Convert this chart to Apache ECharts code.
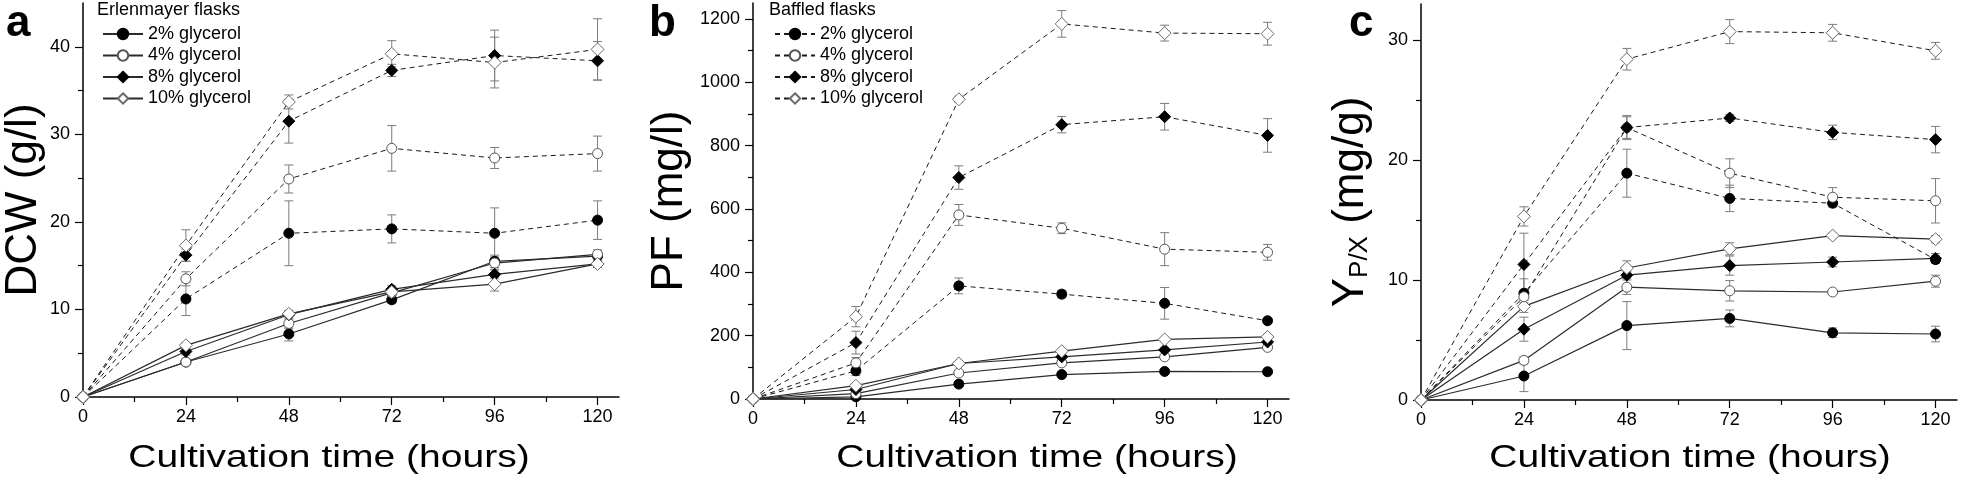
<!DOCTYPE html>
<html><head><meta charset="utf-8">
<script src="https://cdn.jsdelivr.net/npm/echarts@6/dist/echarts.min.js"></script>
<style>html,body{margin:0;padding:0;background:#fff}#c{width:1961px;height:484px}</style>
</head><body><div id="c"></div>
<script>
// ---------- data ----------
const time = [0, 24, 48, 72, 96, 120];
const xTickLabels = [0, 24, 48, 72, 96, 120];
const xMinorTicks = [12, 36, 60, 84, 108];
const concLabels = ['2% glycerol', '4% glycerol', '8% glycerol', '10% glycerol'];
const xTitle = 'Cultivation time (hours)';

// Panel a: DCW (g/l)
const aYTicks = [0, 10, 20, 30, 40];
const aYMinor = [5, 15, 25, 35];
const dcwErl2  = [0, 4.0, 7.2, 11.1, 15.5, 16.1];
const dcwErl4  = [0, 4.0, 8.4, 11.9, 15.3, 16.3];
const dcwErl8  = [0, 5.2, 9.4, 12.3, 14.0, 15.2];
const dcwErl10 = [0, 5.9, 9.5, 12.0, 12.9, 15.2];
const dcwErl2Err  = [0, 0.3, 0.8, 0.4, 0.7, 0.5];
const dcwErl4Err  = [0, 0.3, 0.6, 0.4, 0.7, 0.5];
const dcwErl8Err  = [0, 0.4, 0.5, 0.4, 0.5, 0.4];
const dcwErl10Err = [0, 0.3, 0.3, 0.4, 0.8, 0.4];
const dcwBaf2  = [0, 11.2, 18.7, 19.2, 18.7, 20.2];
const dcwBaf4  = [0, 13.5, 24.9, 28.4, 27.3, 27.8];
const dcwBaf8  = [0, 16.2, 31.5, 37.3, 39.0, 38.4];
const dcwBaf10 = [0, 17.3, 33.7, 39.2, 38.2, 39.7];
const dcwBaf2Err  = [0, 1.9, 3.7, 1.6, 2.9, 2.2];
const dcwBaf4Err  = [0, 0.8, 1.6, 2.6, 1.2, 2.0];
const dcwBaf8Err  = [0, 0.7, 2.5, 0.7, 2.9, 2.2];
const dcwBaf10Err = [0, 1.8, 0.8, 1.5, 2.9, 3.5];

// Panel b: PF (mg/l)
const bYTicks = [0, 200, 400, 600, 800, 1000, 1200];
const bYMinor = [100, 300, 500, 700, 900, 1100];
const pfErl2  = [0, 7, 47, 77, 87, 86];
const pfErl4  = [0, 17, 82, 114, 133, 163];
const pfErl8  = [0, 30, 112, 133, 155, 180];
const pfErl10 = [0, 42, 112, 151, 188, 196];
const pfErl2Err  = [0, 3, 8, 6, 5, 5];
const pfErl4Err  = [0, 4, 7, 8, 6, 8];
const pfErl8Err  = [0, 5, 6, 6, 6, 6];
const pfErl10Err = [0, 5, 6, 6, 6, 6];
const pfBaf2  = [0, 89, 357, 331, 302, 247];
const pfBaf4  = [0, 114, 581, 539, 473, 463];
const pfBaf8  = [0, 178, 699, 866, 891, 832];
const pfBaf10 = [0, 260, 946, 1184, 1155, 1153];
const pfBaf2Err  = [0, 15, 25, 12, 50, 5];
const pfBaf4Err  = [0, 17, 33, 17, 52, 25];
const pfBaf8Err  = [0, 36, 37, 26, 42, 53];
const pfBaf10Err = [0, 32, 10, 42, 25, 36];

// Panel c: Y P/X (mg/g)
const cYTicks = [0, 10, 20, 30];
const cYMinor = [5, 15, 25];
const ypxErl2  = [0, 2.0, 6.2, 6.8, 5.6, 5.5];
const ypxErl4  = [0, 3.3, 9.4, 9.1, 9.0, 9.9];
const ypxErl8  = [0, 5.9, 10.4, 11.2, 11.5, 11.8];
const ypxErl10 = [0, 7.8, 11.0, 12.6, 13.7, 13.4];
const ypxErl2Err  = [0, 1.3, 2.0, 0.7, 0.4, 0.65];
const ypxErl4Err  = [0, 0.3, 0.6, 0.85, 0.2, 0.5];
const ypxErl8Err  = [0, 1.0, 0.3, 0.8, 0.4, 0.4];
const ypxErl10Err = [0, 0.5, 0.6, 0.5, 0.2, 0.3];
const ypxBaf2  = [0, 8.9, 18.9, 16.8, 16.4, 11.7];
const ypxBaf4  = [0, 8.6, 22.7, 18.9, 16.9, 16.6];
const ypxBaf8  = [0, 11.3, 22.7, 23.5, 22.3, 21.7];
const ypxBaf10 = [0, 15.3, 28.4, 30.7, 30.6, 29.1];
const ypxBaf2Err  = [0, 1.2, 2.0, 1.1, 0.3, 0.3];
const ypxBaf4Err  = [0, 0.5, 1.0, 1.2, 0.8, 1.85];
const ypxBaf8Err  = [0, 2.6, 0.9, 0.3, 0.6, 1.1];
const ypxBaf10Err = [0, 0.8, 0.9, 1.0, 0.7, 0.7];

// ---------- styles ----------
const FONT = '"Liberation Sans", Arial, sans-serif';
const markers = [
  {symbol: 'circle', size: 10, fill: '#000', stroke: '#000'},
  {symbol: 'circle', size: 10, fill: '#fff', stroke: '#555'},
  {symbol: 'diamond', size: 12, fill: '#000', stroke: '#000'},
  {symbol: 'diamond', size: 13, fill: '#fff', stroke: '#6a6a6a'}
];

const grids = [
  {left: 83, top: 3, width: 536, height: 394},
  {left: 753, top: 3, width: 536, height: 396},
  {left: 1421, top: 4, width: 536, height: 396}
];

const legendNames = {};

function lineSeries(gi, vals, k, dashed, name) {
  const m = markers[k];
  legendNames[name] = concLabels[k];
  return {
    type: 'line', name: name, xAxisIndex: gi * 2, yAxisIndex: gi * 2, z: 3,
    data: time.map((t, i) => [t, vals[i]]),
    symbol: m.symbol, symbolSize: m.size, showSymbol: true, animation: false,
    lineStyle: {color: dashed ? '#1a1a1a' : '#2b2b2b', width: dashed ? 1 : 1.2, type: dashed ? [5, 4] : 'solid'},
    itemStyle: {color: m.fill, borderColor: m.stroke, borderWidth: 1},
    emphasis: {disabled: true}
  };
}

function errSeries(gi, vals, errs, name) {
  return {
    type: 'custom', name: name, xAxisIndex: gi * 2, yAxisIndex: gi * 2, z: 2, silent: true, animation: false,
    data: time.map((t, i) => [t, vals[i], errs[i]]).filter(d => d[2] > 0),
    encode: {x: 0, y: 1},
    renderItem: function (params, api) {
      const x = api.value(0), y = api.value(1), e = api.value(2);
      const p1 = api.coord([x, y + e]), p2 = api.coord([x, y - e]);
      const w = 4.5, st = {stroke: '#7c7c7c', lineWidth: 1};
      return {type: 'group', children: [
        {type: 'line', shape: {x1: p1[0], y1: p1[1], x2: p2[0], y2: p2[1]}, style: st},
        {type: 'line', shape: {x1: p1[0] - w, y1: p1[1], x2: p1[0] + w, y2: p1[1]}, style: st},
        {type: 'line', shape: {x1: p2[0] - w, y1: p2[1], x2: p2[0] + w, y2: p2[1]}, style: st}
      ]};
    }
  };
}

function xAxes(gi) {
  return [
    {gridIndex: gi, type: 'value', min: 0, max: 125, position: 'bottom',
     axisLine: {show: true, onZero: false, lineStyle: {color: '#000', width: 1.5}},
     axisTick: {show: true, customValues: xTickLabels, length: 8, lineStyle: {color: '#000', width: 1.2}},
     axisLabel: {show: true, customValues: xTickLabels, fontSize: 18, color: '#000', fontFamily: FONT, margin: 11},
     splitLine: {show: false}},
    {gridIndex: gi, type: 'value', min: 0, max: 125, position: 'bottom',
     axisLine: {show: false}, axisLabel: {show: false}, splitLine: {show: false},
     axisTick: {show: true, customValues: xMinorTicks, length: 5, lineStyle: {color: '#000', width: 1.2}}}
  ];
}

function yAxes(gi, max, ticks, minor, name, nameGap, extra) {
  return [
    Object.assign({gridIndex: gi, type: 'value', min: 0, max: max, position: 'left',
     axisLine: {show: true, onZero: false, lineStyle: {color: '#000', width: 1.5}},
     axisTick: {show: true, customValues: ticks, length: 8, lineStyle: {color: '#000', width: 1.2}},
     axisLabel: {show: true, customValues: ticks, fontSize: 18, color: '#000', fontFamily: FONT, margin: 13,
                 formatter: v => String(v)},
     splitLine: {show: false},
     name: name, nameLocation: 'middle', nameGap: nameGap,
     nameTextStyle: {fontSize: 44, color: '#000', fontFamily: FONT}}, extra || {}),
    {gridIndex: gi, type: 'value', min: 0, max: max, position: 'left',
     axisLine: {show: false}, axisLabel: {show: false}, splitLine: {show: false},
     axisTick: {show: true, customValues: minor, length: 5, lineStyle: {color: '#000', width: 1.2}}}
  ];
}

const series = [];
const panels = [
  {erl: [dcwErl2, dcwErl4, dcwErl8, dcwErl10], erlErr: [dcwErl2Err, dcwErl4Err, dcwErl8Err, dcwErl10Err],
   baf: [dcwBaf2, dcwBaf4, dcwBaf8, dcwBaf10], bafErr: [dcwBaf2Err, dcwBaf4Err, dcwBaf8Err, dcwBaf10Err]},
  {erl: [pfErl2, pfErl4, pfErl8, pfErl10], erlErr: [pfErl2Err, pfErl4Err, pfErl8Err, pfErl10Err],
   baf: [pfBaf2, pfBaf4, pfBaf8, pfBaf10], bafErr: [pfBaf2Err, pfBaf4Err, pfBaf8Err, pfBaf10Err]},
  {erl: [ypxErl2, ypxErl4, ypxErl8, ypxErl10], erlErr: [ypxErl2Err, ypxErl4Err, ypxErl8Err, ypxErl10Err],
   baf: [ypxBaf2, ypxBaf4, ypxBaf8, ypxBaf10], bafErr: [ypxBaf2Err, ypxBaf4Err, ypxBaf8Err, ypxBaf10Err]}
];
panels.forEach((p, gi) => {
  for (let k = 0; k < 4; k++) {
    series.push(errSeries(gi, p.erl[k], p.erlErr[k], 'errE' + gi + k));
    series.push(errSeries(gi, p.baf[k], p.bafErr[k], 'errB' + gi + k));
  }
  for (let k = 0; k < 4; k++) series.push(lineSeries(gi, p.erl[k], k, false, 'E' + gi + '_' + k));
  for (let k = 0; k < 4; k++) series.push(lineSeries(gi, p.baf[k], k, true, 'B' + gi + '_' + k));
});

const legendText = {fontSize: 18, color: '#000', fontFamily: FONT};
function legendFor(left, names) {
  return {
    left: left, top: 20, orient: 'vertical', itemWidth: 40, itemHeight: 13, itemGap: 3.5,
    selectedMode: false, textStyle: legendText,
    data: names.map(n => ({name: n, textStyle: legendText})),
    formatter: n => legendNames[n]
  };
}

const titleFont = '32px ' + FONT;
const option = {
  animation: false,
  backgroundColor: '#fff',
  grid: grids.map(g => Object.assign({containLabel: false}, g)),
  xAxis: [].concat(xAxes(0), xAxes(1), xAxes(2)),
  yAxis: [].concat(
    yAxes(0, 45, aYTicks, aYMinor, 'DCW (g/l)', 34),
    yAxes(1, 1250, bYTicks, bYMinor, 'PF (mg/l)', 61),
    yAxes(2, 33, cYTicks, cYMinor, '{m|Y}{s|P/X}{m| (mg/g)}', 48, {
      nameTextStyle: {fontSize: 44, color: '#000', fontFamily: FONT,
        rich: {m: {fontSize: 44, fontFamily: FONT, color: '#000'},
               s: {fontSize: 26, fontFamily: FONT, color: '#000', verticalAlign: 'bottom'}}}
    })
  ),
  legend: [
    legendFor(97, ['E0_0', 'E0_1', 'E0_2', 'E0_3']),
    legendFor(769, ['B1_0', 'B1_1', 'B1_2', 'B1_3'])
  ],
  graphic: [
    {type: 'text', x: 6, y: 46, style: {text: 'a', font: 'bold 44px ' + FONT, fill: '#000', verticalAlign: 'bottom'}},
    {type: 'text', x: 649, y: 46, style: {text: 'b', font: 'bold 44px ' + FONT, fill: '#000', verticalAlign: 'bottom'}},
    {type: 'text', x: 1349, y: 46, style: {text: 'c', font: 'bold 44px ' + FONT, fill: '#000', verticalAlign: 'bottom'}},
    {type: 'text', x: 97, y: 10, style: {text: 'Erlenmayer flasks', font: '18px ' + FONT, fill: '#000', verticalAlign: 'middle'}},
    {type: 'text', x: 769, y: 10, style: {text: 'Baffled flasks', font: '18px ' + FONT, fill: '#000', verticalAlign: 'middle'}},
    {type: 'text', x: 329, y: 458, scaleX: 1.22, style: {text: xTitle, font: titleFont, fill: '#000', align: 'center', verticalAlign: 'middle'}},
    {type: 'text', x: 1037, y: 458, scaleX: 1.22, style: {text: xTitle, font: titleFont, fill: '#000', align: 'center', verticalAlign: 'middle'}},
    {type: 'text', x: 1690, y: 458, scaleX: 1.22, style: {text: xTitle, font: titleFont, fill: '#000', align: 'center', verticalAlign: 'middle'}}
  ],
  series: series
};

const chart = echarts.init(document.getElementById('c'), null, {renderer: 'canvas'});
chart.setOption(option);
</script>
</body></html>
